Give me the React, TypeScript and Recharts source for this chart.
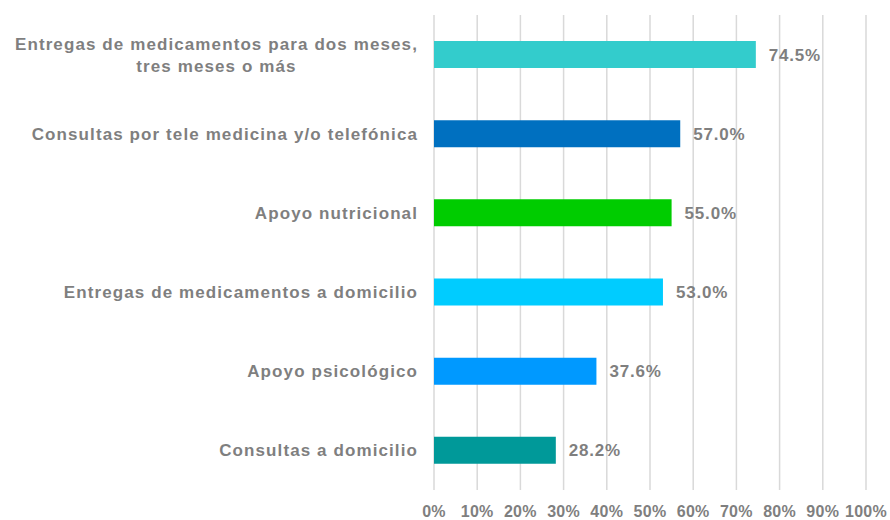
import { BarChart, Bar, XAxis, YAxis, CartesianGrid, Cell, LabelList } from 'recharts';

const categories = [
  'Entregas de medicamentos para dos meses,\ntres meses o más',
  'Consultas por tele medicina y/o telefónica',
  'Apoyo nutricional',
  'Entregas de medicamentos a domicilio',
  'Apoyo psicológico',
  'Consultas a domicilio',
];
const values = [74.5, 57.0, 55.0, 53.0, 37.6, 28.2];
const barColors = ['#33CCCC', '#0070C0', '#00CC00', '#00CCFF', '#0099FF', '#009999'];
const xTicks = [0, 10, 20, 30, 40, 50, 60, 70, 80, 90, 100];

const data = categories.map((name, i) => ({ name, value: values[i] }));

const FONT = '"Liberation Sans", Arial, sans-serif';
const TEXT = '#7f7f7f';
const CAT_SIZE = 17;
const CAT_SPACING = 1.1;

function measure(text: string) {
  const ctx = document.createElement('canvas').getContext('2d');
  if (!ctx) return text.length * 10;
  ctx.font = `bold ${CAT_SIZE}px "Liberation Sans", Arial, sans-serif`;
  return ctx.measureText(text).width + text.length * CAT_SPACING;
}

function CategoryTick(props: any) {
  const { x, y, payload } = props;
  const lines: string[] = String(payload.value).split('\n');
  const common = {
    fill: TEXT,
    fontSize: CAT_SIZE,
    fontWeight: 'bold',
    fontFamily: FONT,
    letterSpacing: CAT_SPACING,
  };
  if (lines.length === 1) {
    return (
      <text x={x} y={y} dy={6} textAnchor="end" {...common}>
        {lines[0]}
      </text>
    );
  }
  const w = Math.max(...lines.map(measure));
  const cx = x - w / 2;
  return (
    <text textAnchor="middle" {...common}>
      {lines.map((l, i) => (
        <tspan key={i} x={cx} y={y + 6 + (i - (lines.length - 1) / 2) * 22}>
          {l}
        </tspan>
      ))}
    </text>
  );
}

export default function App() {
  return (
    <div style={{ position: 'absolute', left: 0, top: 0, background: '#fff' }}>
      <BarChart
        width={890}
        height={520}
        data={data}
        layout="vertical"
        margin={{ top: 15, right: 24, left: 0, bottom: 0 }}
        barCategoryGap="33%"
      >
        <CartesianGrid horizontal={false} stroke="#d9d9d9" strokeWidth={1.5} />
        <XAxis
          type="number"
          domain={[0, 100]}
          ticks={xTicks}
          tickFormatter={(v: number) => `${v}%`}
          axisLine={false}
          tickLine={false}
          tickSize={0}
          tickMargin={16}
          height={30}
          interval={0}
          tick={{ fill: TEXT, fontSize: 16, fontWeight: 'bold', fontFamily: FONT, letterSpacing: 0.3 }}
        />
        <YAxis
          type="category"
          dataKey="name"
          width={434}
          axisLine={false}
          tickLine={false}
          tickSize={0}
          tickMargin={16}
          interval={0}
          tick={<CategoryTick />}
        />
        <Bar dataKey="value" barSize={27} isAnimationActive={false}>
          {data.map((d, i) => (
            <Cell key={d.name} fill={barColors[i]} />
          ))}
          <LabelList
            dataKey="value"
            position="right"
            offset={13}
            formatter={(v: any) => `${Number(v).toFixed(1)}%`}
            fill={TEXT}
            fontSize={17}
            fontWeight="bold"
            fontFamily={FONT}
            letterSpacing={0.8}
          />
        </Bar>
      </BarChart>
    </div>
  );
}
